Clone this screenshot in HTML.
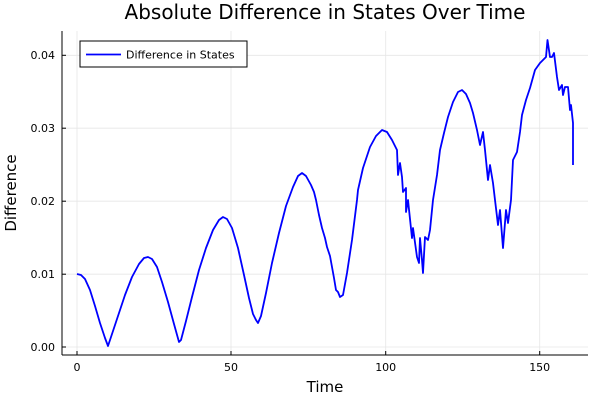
<!DOCTYPE html>
<html><head><meta charset="utf-8"><style>
body{margin:0;background:#fff}
text{font-family:"DejaVu Sans","Liberation Sans",sans-serif;fill:#000}
</style></head><body>
<svg width="600" height="400" viewBox="0 0 600 400" xmlns="http://www.w3.org/2000/svg">
<rect width="600" height="400" fill="#fff"/>
<g stroke="#e6e6e6" stroke-width="0.8">
<line x1="77" y1="31" x2="77" y2="355"/><line x1="231" y1="31" x2="231" y2="355"/>
<line x1="385.7" y1="31" x2="385.7" y2="355"/><line x1="539.7" y1="31" x2="539.7" y2="355"/>
<line x1="62" y1="347" x2="588" y2="347"/><line x1="62" y1="274.2" x2="588" y2="274.2"/>
<line x1="62" y1="201.2" x2="588" y2="201.2"/><line x1="62" y1="128.2" x2="588" y2="128.2"/>
<line x1="62" y1="55.3" x2="588" y2="55.3"/>
</g>
<g stroke="#000" stroke-width="1">
<line x1="62" y1="355" x2="588" y2="355"/><line x1="62" y1="31" x2="62" y2="355"/>
<line x1="77" y1="355" x2="77" y2="351"/><line x1="231" y1="355" x2="231" y2="351"/>
<line x1="385.7" y1="355" x2="385.7" y2="351"/><line x1="539.7" y1="355" x2="539.7" y2="351"/>
<line x1="62" y1="347" x2="66" y2="347"/><line x1="62" y1="274.2" x2="66" y2="274.2"/>
<line x1="62" y1="201.2" x2="66" y2="201.2"/><line x1="62" y1="128.2" x2="66" y2="128.2"/>
<line x1="62" y1="55.3" x2="66" y2="55.3"/>
</g>
<g font-size="11" text-anchor="middle">
<text x="77" y="371">0</text><text x="231" y="371">50</text><text x="385.7" y="371">100</text><text x="539.7" y="371">150</text>
</g>
<g font-size="11" text-anchor="end">
<text x="55" y="351">0.00</text><text x="55" y="278">0.01</text><text x="55" y="205">0.02</text><text x="55" y="132">0.03</text><text x="55" y="59">0.04</text>
</g>
<text x="325" y="392" font-size="15" text-anchor="middle">Time</text>
<text transform="translate(16,193) rotate(-90)" font-size="15" text-anchor="middle">Difference</text>
<text x="325" y="19" font-size="20" text-anchor="middle">Absolute Difference in States Over Time</text>
<polyline fill="none" stroke="#0000ff" stroke-width="1.8" stroke-linejoin="round" points="
77,274 81,275 85,279 90,290 95,306 100,323 105,338 108,346 112,334 118,316 125,295 132,277 139,264 144,258 148,257 152,259 157,267 162,282 168,302 174,324 179,342 181,340 186,321 192,297 199,270 206,248 213,230 219,220 223,217 227,219 232,228 238,248 244,275 249,298 253,314 256,320 258,323 261,316 266,293 272,263 279,233 286,206 293,187 298,176 302,173 306,176 311,185 314,192 316,200 319,215 322,228 325,238 327,247 330,256 332,267 334,278 336,290 338,292 340,297 343,295 345,284 347,273 352,240 357,200 358,190 363,168 370,147 376,136 382,130 387,132 392,140 397,150 398,175 400,163 402,177 403,192 406,188 406,212 408,200 412,238 413,228 417,257 419,263 420,238 422,260 423,273 425,237 428,240 430,230 433,200 437,175 440,150 444,133 448,117 453,102 458,92 462,90 466,94 470,103 473,113 477,130 480,145 483,132 485,150 488,180 490,165 493,183 495,200 498,225 500,210 503,248 506,210 508,223 511,200 513,160 517,152 520,132 522,115 526,100 530,88 535,70 540,63 546,57 547.5,40 550,57 552,57 554,53 557,77 559,90 562,85 563,95 565,87 568,87 570,110 571,105 573,123 573,165"/>
<rect x="80" y="41" width="167" height="26" fill="#fff" stroke="#000" stroke-width="1"/>
<line x1="86" y1="54.5" x2="121" y2="54.5" stroke="#0000ff" stroke-width="1.8"/>
<text x="126" y="58.5" font-size="11">Difference in States</text>
</svg>
</body></html>
